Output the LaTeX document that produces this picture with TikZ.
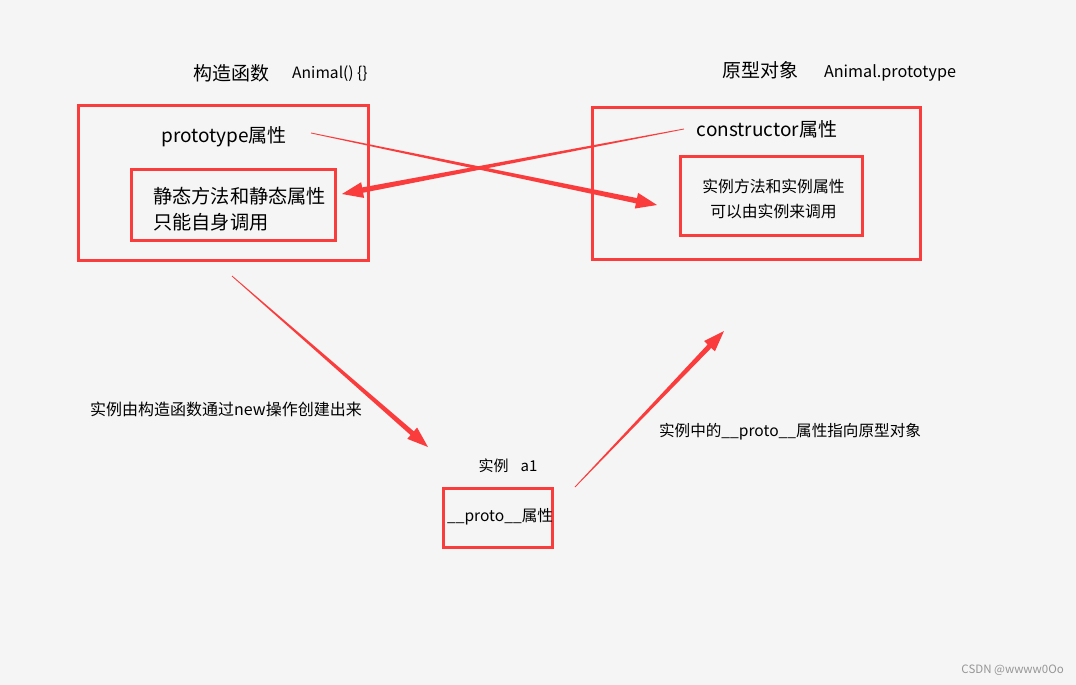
\documentclass[tikz,border=0pt]{standalone}
\usepackage{fontspec}
\setmainfont{Noto Sans CJK SC}
\usetikzlibrary{calc}
\definecolor{bg}{RGB}{245,245,245}
\definecolor{boxred}{RGB}{250,60,60}
\definecolor{wm}{RGB}{150,150,150}
\newcommand\fsz[1]{\fontsize{#1}{#1}\selectfont}
\newcommand\taperarrow[4]{% start, end, shaft half width, head half width
  \fill[boxred] ($(#1)!0.4pt!90:(#2)$)
    -- ($(#2)!21pt!(#1)!#3!-90:(#1)$)
    -- ($(#2)!21pt!(#1)!#4!-90:(#1)$)
    -- (#2)
    -- ($(#2)!21pt!(#1)!#4!90:(#1)$)
    -- ($(#2)!21pt!(#1)!#3!90:(#1)$)
    -- ($(#1)!0.4pt!-90:(#2)$) -- cycle;}
\tikzset{
  box/.style={draw=boxred, line width=3pt, rectangle, inner sep=0pt},
  lbl/.style={inner sep=0pt, text=black},
}
\begin{document}
\begin{tikzpicture}[x=1pt, y=-1pt]
\fill[bg] (0,0) rectangle (1076,685);
\useasboundingbox (0,0) rectangle (1076,685);

% boxes
\node[box, minimum width=290pt, minimum height=155pt] (outerL) at (223.5,183) {};
\node[box, minimum width=204pt, minimum height=71pt] (innerL) at (233.5,205) {};
\node[box, minimum width=328pt, minimum height=152pt] (outerR) at (756.5,183.5) {};
\node[box, minimum width=182pt, minimum height=79pt] (innerR) at (771.5,196) {};
\node[box, minimum width=109pt, minimum height=59pt] (inst) at (498,518) {};

% titles
\node[lbl, font=\fsz{19}] (ctitle) at (231,73) {构造函数};
\node[lbl, font=\fsz{15.6}] (cname) at (330,74) {Animal() \{\}};
\node[lbl, font=\fsz{19}] (ptitle) at (760,70) {原型对象};
\node[lbl, font=\fsz{16.2}] (pname) at (890,73) {Animal.prototype};

% box texts
\node[lbl, font=\fsz{19}] (protoattr) at (224,137) {prototype属性};
\node[lbl, font=\fsz{19}] (ctorattr) at (767,129) {constructor属性};
\node[lbl, font=\fontsize{19.2}{26}\selectfont, align=left, anchor=west] (static) at (153,209) {静态方法和静态属性\\只能自身调用};
\node[lbl, font=\fontsize{15.8}{25}\selectfont, align=center] (instm) at (773.5,198.5) {实例方法和实例属性\\可以由实例来调用};
\node[lbl, font=\fsz{15}] (insttitle) at (508,466) {实例\hspace{0.8em}a1};
\node[lbl, font=\fsz{15.6}] (instproto) at (500,517) {\_\_proto\_\_属性};

% edge labels
\node[lbl, font=\fsz{16}] (newlbl) at (226,409) {实例由构造函数通过new操作创建出来};
\node[lbl, font=\fsz{15.6}] (protolbl) at (790,432) {实例中的\_\_proto\_\_属性指向原型对象};

% watermark
\node[lbl, font=\fsz{11.5}, text=wm, anchor=east] (wmk) at (1064,670) {CSDN @wwww0Oo};

% arrow endpoints
\coordinate (a1s) at (311,133);
\coordinate (a1e) at (657,205);
\coordinate (a2s) at (684,129);
\coordinate (a2e) at (342,194);
\coordinate (a3s) at (232,276);
\coordinate (a3e) at (428,447);
\coordinate (a4s) at (575,487);
\coordinate (a4e) at (724,331);

\taperarrow{a1s}{a1e}{2.7pt}{8pt}
\taperarrow{a2s}{a2e}{2.7pt}{8pt}
\taperarrow{a3s}{a3e}{2.5pt}{7.5pt}
\taperarrow{a4s}{a4e}{2.5pt}{7.5pt}
\end{tikzpicture}
\end{document}
